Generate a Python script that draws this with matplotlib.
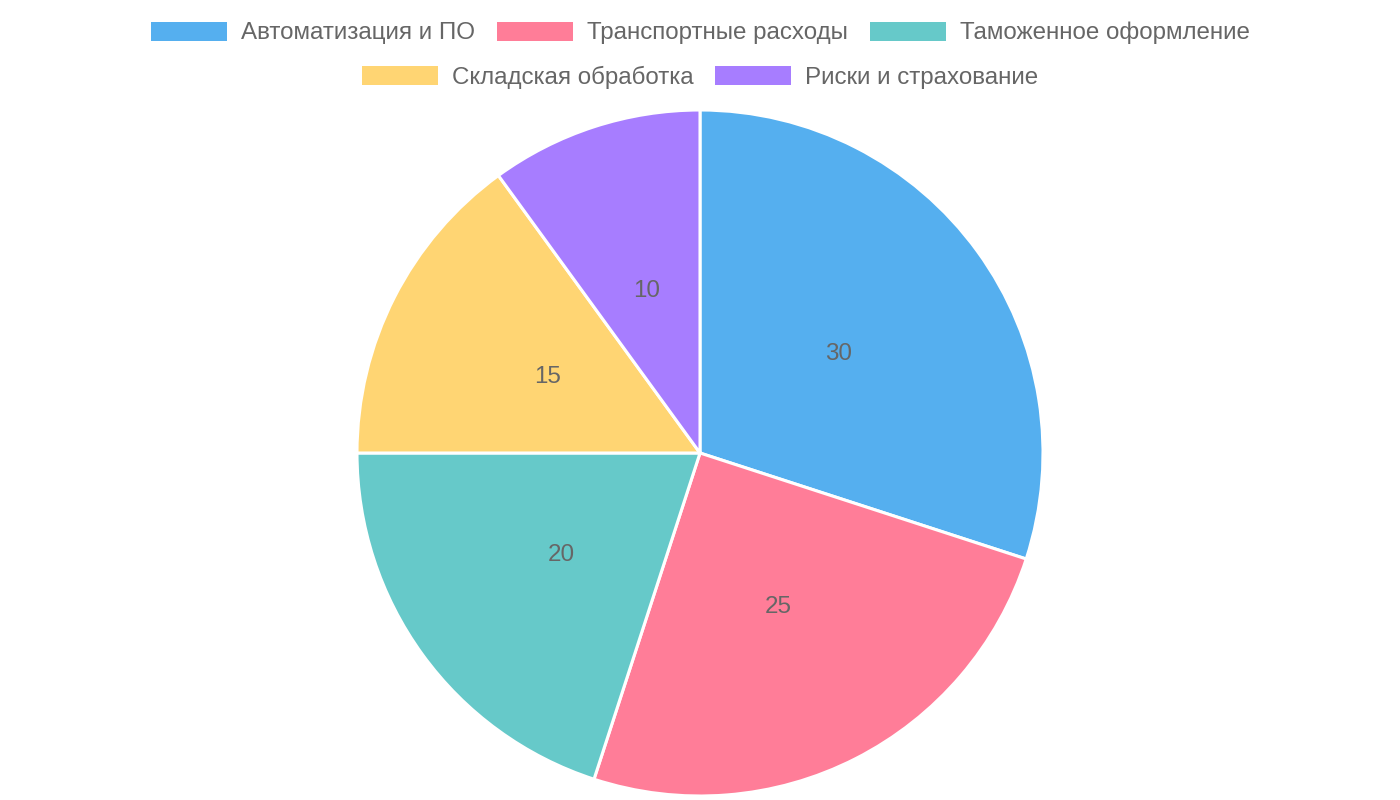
import numpy as np
import matplotlib.pyplot as plt
from matplotlib.patches import Patch

plt.rcParams['font.family'] = ['Liberation Sans', 'DejaVu Sans']

# Data
labels = ['Автоматизация и ПО', 'Транспортные расходы', 'Таможенное оформление',
          'Складская обработка', 'Риски и страхование']
values = [30, 25, 20, 15, 10]
colors = ['#55AFEF', '#FF7D98', '#66C9C9', '#FFD573', '#A77DFF']

W, H = 1400, 800
fig = plt.figure(figsize=(14, 8), dpi=100)

# pie centre (700, 453) px from top, radius 343 px
cx, cy, R = 700, H - 453, 343
ax = fig.add_axes([(cx - R) / W, (cy - R) / H, 2 * R / W, 2 * R / H])
wedges, _ = ax.pie(values, colors=colors, startangle=90, counterclock=False,
                   radius=1, wedgeprops=dict(edgecolor='white', linewidth=2.2))
ax.set_xlim(-1, 1)
ax.set_ylim(-1, 1)
ax.set_aspect('auto')
ax.axis('off')

fs = 17.4
fpx = fs * 100 / 72

# value labels at half radius
for w, v in zip(wedges, values):
    ang = np.deg2rad((w.theta1 + w.theta2) / 2)
    ax.text(0.5 * np.cos(ang), 0.5 * np.sin(ang) - 0.004, str(v), ha='center',
            va='center', fontsize=fs, color='#666666')

handles = [Patch(facecolor=c, edgecolor='none') for c in colors]
kw = dict(frameon=False, fontsize=fs, labelcolor='#666666', handlelength=76 / fpx,
          handleheight=20 / fpx, handletextpad=14 / fpx, columnspacing=22 / fpx,
          borderpad=0, loc='center')
leg1 = fig.legend(handles[:3], labels[:3], ncol=3,
                  bbox_to_anchor=(0.5, 1 - 33 / H), **kw)
leg2 = fig.legend(handles[3:], labels[3:], ncol=2,
                  bbox_to_anchor=(0.5, 1 - 77 / H), **kw)

fig.savefig('out.png', dpi=100)
